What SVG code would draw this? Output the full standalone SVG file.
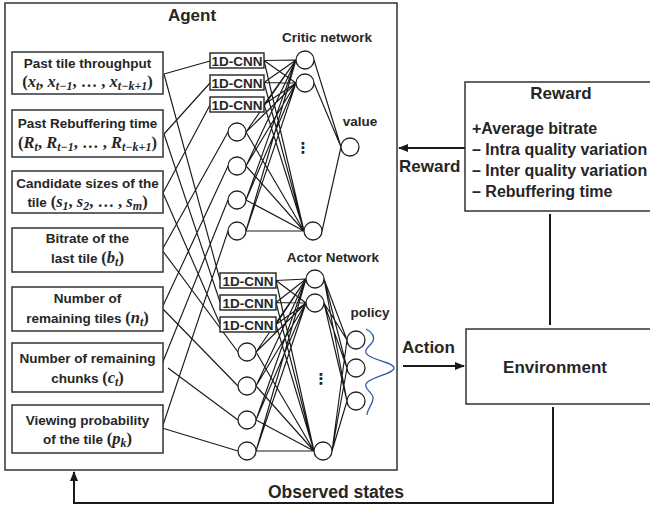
<svg xmlns="http://www.w3.org/2000/svg" width="650" height="506" viewBox="0 0 650 506">
<defs>
<marker id="ah" markerUnits="userSpaceOnUse" markerWidth="10" markerHeight="8" refX="9" refY="4" orient="auto">
<path d="M0,0 L10,4 L0,8 Z" fill="#1a1a1a"/>
</marker>
<style>
.t{font-family:"Liberation Sans",Arial,sans-serif;font-weight:bold;fill:#262626}
.bx{font-size:13.5px;text-anchor:middle}
.lg{font-size:17px}
.sm{font-size:13.5px}
.rw{font-size:16px}
.mp{font-family:"Liberation Serif","Times New Roman",serif;font-weight:bold;font-size:16.5px;fill:#262626}
.mv{font-family:"Liberation Serif","Times New Roman",serif;font-style:italic;font-weight:bold;font-size:16.5px}
.sb{font-size:12px}
.box{fill:#fff;stroke:#333;stroke-width:1.5}
.n{fill:#fff;stroke:#222;stroke-width:1.3}
.cn{fill:#fff;stroke:#222;stroke-width:1.4}
.w{fill:none;stroke:#1a1a1a;stroke-width:1.15}
.fl{fill:none;stroke:#1a1a1a;stroke-width:2}
.dots{font-family:"DejaVu Sans",sans-serif;font-size:15px;font-weight:bold;fill:#222;text-anchor:middle}
</style>
</defs>
<rect width="650" height="506" fill="#fff"/>

<g id="agent">
<rect class="box" x="5" y="3" width="392" height="467"/>
<text class="t lg" x="192" y="21" text-anchor="middle">Agent</text>
</g>

<g id="connectors">
<!-- inputs to networks -->
<path class="w" d="M164,74 L210,61 M164,74 L220,280 M164,134 L210,83 M164,134 L220,302 M163,193 L210,105 M163,193 L220,324 M162,250 L228,132 M162,250 L238,352 M162,308 L228,166 M162,308 L238,386 M162,364 L228,200 M168,368 L238,420 M162,428 L228,231 M162,428 L238,451"/>
<!-- critic -->
<path class="w" d="M264,60.5 L296,60 M264,60.5 L296,83 M264,60.5 L304,231 M264,82.5 L296,60 M264,82.5 L296,83 M264,82.5 L304,231 M264,104.5 L296,60 M264,104.5 L296,83 M264,104.5 L304,231 M246,132 L296,60 M246,132 L296,83 M246,132 L304,231 M246,166 L296,60 M246,166 L296,83 M246,166 L304,231 M246,200 L296,60 M246,200 L296,83 M246,200 L304,231 M246,231 L296,60 M246,231 L296,83 M246,231 L304,231 M314,60 L341,147 M314,83 L341,147 M322,231 L341,147"/>
<!-- actor -->
<path class="w" d="M276,280.5 L306,279 M276,280.5 L306,303 M276,280.5 L314,451 M276,302.5 L306,279 M276,302.5 L306,303 M276,302.5 L314,451 M276,324.5 L306,279 M276,324.5 L306,303 M276,324.5 L314,451 M256,352 L306,279 M256,352 L306,303 M256,352 L314,451 M256,386 L306,279 M256,386 L306,303 M256,386 L314,451 M256,420 L306,279 M256,420 L306,303 M256,420 L314,451 M256,451 L306,279 M256,451 L306,303 M256,451 L314,451 M324,279 L347,340 M324,279 L347,368 M324,279 L347,401 M324,303 L347,340 M324,303 L347,368 M324,303 L347,401 M332,451 L347,340 M332,451 L347,368 M332,451 L347,401"/>
<!-- system arrows -->
<path class="fl" d="M465,148 L399,148" marker-end="url(#ah)"/>
<path class="fl" d="M403,366 L464,366" marker-end="url(#ah)"/>
<path class="fl" d="M550,214 L550,325"/>
<path class="fl" d="M553,407 L553,503 L74,503 L74,472" marker-end="url(#ah)"/>
</g>

<g id="in1">
<rect class="box" x="12" y="52" width="151" height="42"/>
<text class="t bx" x="87.5" y="68">Past tile throughput</text>
<text class="mp" x="87.5" y="87" text-anchor="middle">(<tspan class="mv">x</tspan><tspan class="mv sb" dy="3">t</tspan><tspan dy="-3">, </tspan><tspan class="mv">x</tspan><tspan class="mv sb" dy="3">t−1</tspan><tspan dy="-3">, … , </tspan><tspan class="mv">x</tspan><tspan class="mv sb" dy="3">t−k+1</tspan><tspan dy="-3">)</tspan></text>
</g>
<g id="in2">
<rect class="box" x="12" y="110" width="151" height="47"/>
<text class="t bx" x="87.5" y="128">Past Rebuffering time</text>
<text class="mp" x="87.5" y="148" text-anchor="middle">(<tspan class="mv">R</tspan><tspan class="mv sb" dy="3">t</tspan><tspan dy="-3">, </tspan><tspan class="mv">R</tspan><tspan class="mv sb" dy="3">t−1</tspan><tspan dy="-3">, … , </tspan><tspan class="mv">R</tspan><tspan class="mv sb" dy="3">t−k+1</tspan><tspan dy="-3">)</tspan></text>
</g>
<g id="in3">
<rect class="box" x="12" y="171" width="151" height="42"/>
<text class="t bx" x="87.5" y="188">Candidate sizes of the</text>
<text class="t bx" x="87.5" y="207">tile <tspan class="mp">(</tspan><tspan class="mv">s</tspan><tspan class="mv sb" dy="3">1</tspan><tspan class="mp" dy="-3">, </tspan><tspan class="mv">s</tspan><tspan class="mv sb" dy="3">2</tspan><tspan class="mp" dy="-3">, … , </tspan><tspan class="mv">s</tspan><tspan class="mv sb" dy="3">m</tspan><tspan class="mp" dy="-3">)</tspan></text>
</g>
<g id="in4">
<rect class="box" x="12" y="228" width="151" height="44"/>
<text class="t bx" x="87.5" y="243">Bitrate of the</text>
<text class="t bx" x="87.5" y="263">last tile <tspan class="mp">(</tspan><tspan class="mv">b</tspan><tspan class="mv sb" dy="3">t</tspan><tspan class="mp" dy="-3">)</tspan></text>
</g>
<g id="in5">
<rect class="box" x="12" y="287" width="151" height="44"/>
<text class="t bx" x="87.5" y="303">Number of</text>
<text class="t bx" x="87.5" y="323">remaining tiles <tspan class="mp">(</tspan><tspan class="mv">n</tspan><tspan class="mv sb" dy="3">t</tspan><tspan class="mp" dy="-3">)</tspan></text>
</g>
<g id="in6">
<rect class="box" x="12" y="343" width="151" height="49"/>
<text class="t bx" x="87.5" y="363">Number of remaining</text>
<text class="t bx" x="87.5" y="383">chunks <tspan class="mp">(</tspan><tspan class="mv">c</tspan><tspan class="mv sb" dy="3">t</tspan><tspan class="mp" dy="-3">)</tspan></text>
</g>
<g id="in7">
<rect class="box" x="12" y="405" width="151" height="48"/>
<text class="t bx" x="87.5" y="425">Viewing probability</text>
<text class="t bx" x="87.5" y="444">of the tile <tspan class="mp">(</tspan><tspan class="mv">p</tspan><tspan class="mv sb" dy="3">k</tspan><tspan class="mp" dy="-3">)</tspan></text>
</g>

<g id="critic">
<text class="t sm" x="327" y="42" text-anchor="middle">Critic network</text>
<rect class="cn" x="210" y="53" width="54" height="15"/>
<text class="t sm" x="237" y="66" text-anchor="middle">1D-CNN</text>
<rect class="cn" x="210" y="75" width="54" height="15"/>
<text class="t sm" x="237" y="88" text-anchor="middle">1D-CNN</text>
<rect class="cn" x="210" y="97" width="54" height="15"/>
<text class="t sm" x="237" y="110" text-anchor="middle">1D-CNN</text>
<circle class="n" cx="237" cy="132" r="9"/>
<circle class="n" cx="237" cy="166" r="9"/>
<circle class="n" cx="237" cy="200" r="9"/>
<circle class="n" cx="237" cy="231" r="9"/>
<circle class="n" cx="305" cy="60" r="9"/>
<circle class="n" cx="305" cy="83" r="9"/>
<circle class="n" cx="313" cy="231" r="9"/>
<text class="dots" x="303" y="153">⋮</text>
<circle class="n" cx="350" cy="147" r="9"/>
<text class="t sm" x="360" y="126" text-anchor="middle">value</text>
</g>

<g id="actor">
<text class="t sm" x="333" y="262" text-anchor="middle">Actor Network</text>
<rect class="cn" x="220" y="273" width="56" height="15"/>
<text class="t sm" x="248" y="286" text-anchor="middle">1D-CNN</text>
<rect class="cn" x="220" y="295" width="56" height="15"/>
<text class="t sm" x="248" y="308" text-anchor="middle">1D-CNN</text>
<rect class="cn" x="220" y="317" width="56" height="15"/>
<text class="t sm" x="248" y="330" text-anchor="middle">1D-CNN</text>
<circle class="n" cx="247" cy="352" r="9"/>
<circle class="n" cx="247" cy="386" r="9"/>
<circle class="n" cx="247" cy="420" r="9"/>
<circle class="n" cx="247" cy="451" r="9"/>
<circle class="n" cx="315" cy="279" r="9"/>
<circle class="n" cx="315" cy="303" r="9"/>
<circle class="n" cx="323" cy="451" r="9"/>
<text class="dots" x="321" y="384">⋮</text>
<circle class="n" cx="356" cy="340" r="9"/>
<circle class="n" cx="356" cy="368" r="9"/>
<circle class="n" cx="356" cy="401" r="9"/>
<text class="t sm" x="370" y="317" text-anchor="middle">policy</text>
<path d="M366,329 C372,332 375,337 373,341 C371,346 364,348 366,353 C369,360 394,362 394,368 C394,374 369,377 366,384 C364,389 372,392 373,397 C374,403 367,409 367,415" fill="none" stroke="#2f5ea8" stroke-width="1.3"/>
</g>

<g id="reward">
<rect class="box" x="465" y="82" width="200" height="129"/>
<text class="t" x="561" y="99" font-size="17" text-anchor="middle">Reward</text>
<text class="t rw" x="472" y="134">+Average bitrate</text>
<text class="t rw" x="472" y="155">– Intra quality variation</text>
<text class="t rw" x="472" y="176">– Inter quality variation</text>
<text class="t rw" x="472" y="197">– Rebuffering time</text>
</g>

<g id="environment">
<rect class="box" x="466" y="329" width="200" height="75"/>
<text class="t lg" x="555" y="373" text-anchor="middle">Environment</text>
</g>

<g id="labels">
<text class="t lg" x="399" y="172">Reward</text>
<text class="t lg" x="402" y="353">Action</text>
<text class="t" x="336" y="498" font-size="17.5" text-anchor="middle">Observed states</text>
</g>
</svg>
